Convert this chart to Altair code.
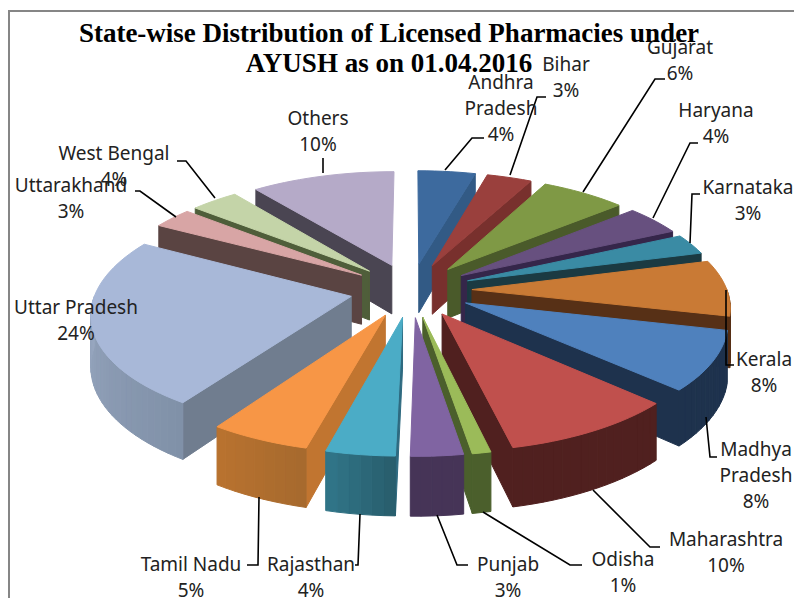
import math
import altair as alt

# ---- data ----
states = ["Andhra Pradesh", "Bihar", "Gujarat", "Haryana", "Karnataka", "Kerala",
          "Madhya Pradesh", "Maharashtra", "Odisha", "Punjab", "Rajasthan",
          "Tamil Nadu", "Uttar Pradesh", "Uttarakhand", "West Bengal", "Others"]
shares = [4.2, 3.3, 6.2, 4.2, 2.9, 7.9, 8.3, 9.5, 1.0, 2.8, 3.7, 5.4, 23.7, 2.9, 3.5, 10.5]
label_lines = [["Andhra", "Pradesh", "4%"], ["Bihar", "3%"], ["Gujarat", "6%"], ["Haryana", "4%"],
               ["Karnataka", "3%"], ["Kerala", "8%"], ["Madhya", "Pradesh", "8%"],
               ["Maharashtra", "10%"], ["Odisha", "1%"], ["Punjab", "3%"], ["Rajasthan", "4%"],
               ["Tamil Nadu", "5%"], ["Uttar Pradesh", "24%"], ["Uttarakhand", "3%"],
               ["West Bengal", "4%"], ["Others", "10%"]]

# ---- styling ----
top_colors = ["#3d6a9e", "#9a403d", "#7f9945", "#67507f", "#3a8ba4", "#c97a35", "#4f81bd", "#c0504d",
              "#9bbb59", "#8064a2", "#4bacc6", "#f79646", "#a8b8d8", "#d8a5a5", "#c4d4a8", "#b5aac8"]
radial_colors = ["#325a85", "#78302d", "#4a5a2a", "#35264a", "#1b3a42", "#573016", "#1e324d", "#50201f",
                 "#4b5f2c", "#463457", "#2e6a80", "#c17530", "#707d8f", "#5a4442", "#4f5e3a", "#4a4552"]
outer_left = ["#325a85", "#78302d", "#4a5a2a", "#35264a", "#1b3a42", "#573016", "#1e324d", "#50201f",
              "#4b5f2c", "#463457", "#317689", "#b9722f", "#97a6bf", "#5a4442", "#4f5e3a", "#4a4552"]
outer_right = ["#325a85", "#78302d", "#4a5a2a", "#35264a", "#1b3a42", "#573016", "#1e324d", "#50201f",
               "#4b5f2c", "#463457", "#285d6c", "#a66a2e", "#8091a8", "#5a4442", "#4f5e3a", "#4a4552"]

# ---- layout of labels: centre of first text line and the leader line, in page pixels ----
label_pos = [(501, 83), (566, 65), (680, 48), (716, 111), (748, 188), (764, 360), (756, 450),
             (726, 540), (623, 560), (508, 565), (311, 565), (191, 565), (76, 308), (71, 186),
             (114, 154), (318, 119)]
leaders = [[(445, 170), (472, 138), (484, 138)], [(510, 175), (537, 97), (546, 97)],
           [(583, 192), (655, 79), (665, 79)], [(653, 218), (690, 143), (698, 143)],
           [(690, 243), (692, 194), (700, 194)], [(726, 290), (726, 365), (734, 365)],
           [(706, 417), (710, 457), (717, 457)], [(593, 490), (650, 547), (660, 547)],
           [(483, 512), (570, 565), (582, 565)], [(437, 515), (457, 565), (468, 565)],
           [(360, 514), (358, 565), (355, 565)], [(259, 497), (258, 565), (247, 565)],
           [(176, 217), (140, 191), (135, 191)], [(215, 198), (186, 161), (177, 161)],
           [(323, 173), (323, 158)]]
frame_line = [(9, 598), (9, 11), (802, 11)]

CX, CY, R, EXPLODE, KY, DIST, DEPTH = 411, 290, 255, 61, 0.44, 1920, 50
W, H = 786, 590


def page(x, y):
    return [x - 8, y - 8]


def project(gx, gy, drop=False):
    s = DIST / (DIST + gy)
    x = CX + gx * s
    y = CY - gy * KY * s + (DEPTH * s if drop else 0)
    return page(x, y)


def mix(c1, c2, t):
    a = [int(c1[i:i + 2], 16) for i in (1, 3, 5)]
    b = [int(c2[i:i + 2], 16) for i in (1, 3, 5)]
    return "#%02x%02x%02x" % tuple(round(a[k] + (b[k] - a[k]) * t) for k in range(3))


def poly(points, fill):
    return {"type": "Feature", "properties": {"fill": fill},
            "geometry": {"type": "Polygon", "coordinates": [points + [points[0]]]}}


slices = []
cum = 0
total = sum(shares)
for i, v in enumerate(shares):
    a = 360 * cum / total
    b = 360 * (cum + v) / total
    cum += v
    slices.append((i, a, b, (a + b) / 2))
slices.sort(key=lambda t: -math.cos(math.radians(t[3])))

faces = []
for i, a, b, m in slices:
    ex = EXPLODE * math.sin(math.radians(m))
    ey = EXPLODE * math.cos(math.radians(m))

    def rim(t):
        r = math.radians(t)
        return R * math.sin(r) + ex, R * math.cos(r) + ey

    # radial walls
    if math.sin(math.radians(a)) < -1e-6:
        g = rim(a)
        faces.append(poly([project(ex, ey), project(*g), project(*g, True), project(ex, ey, True)], radial_colors[i]))
    if math.sin(math.radians(b)) > 1e-6:
        g = rim(b)
        faces.append(poly([project(ex, ey), project(*g), project(*g, True), project(ex, ey, True)], radial_colors[i]))
    # outer wall
    lo, hi = max(a, 90), min(b, 270)
    if hi > lo:
        n = max(1, int((hi - lo) / 2))
        for k in range(n):
            t0 = lo + (hi - lo) * k / n
            t1 = lo + (hi - lo) * (k + 1) / n
            p0, p1 = rim(t0), rim(t1)
            colour = mix(outer_right[i], outer_left[i], (k + 0.5) / n)
            faces.append(poly([project(*p0), project(*p1), project(*p1, True), project(*p0, True)], colour))
    # top
    n = max(2, int((b - a) / 2))
    pts = [project(ex, ey)] + [project(*rim(a + (b - a) * k / n)) for k in range(n + 1)]
    faces.append(poly(pts, top_colors[i]))

line_features = [{"type": "Feature", "properties": {},
                  "geometry": {"type": "LineString", "coordinates": [page(x, y) for x, y in l]}}
                 for l in leaders]
frame_feature = [{"type": "Feature", "properties": {},
                  "geometry": {"type": "LineString", "coordinates": [page(x, y) for x, y in frame_line]}}]

label_rows = [{"text": "\n".join(label_lines[i]),
               "lon": page(*label_pos[i])[0], "lat": page(*label_pos[i])[1]}
              for i in range(len(states))]

frame = alt.Chart(alt.Data(values=frame_feature)).mark_geoshape(filled=False, stroke="#868686", strokeWidth=2)
pie = alt.Chart(alt.Data(values=faces)).mark_geoshape(strokeWidth=1).encode(
    fill=alt.Fill("properties.fill:N", scale=None),
    stroke=alt.Stroke("properties.fill:N", scale=None),
)
lead = alt.Chart(alt.Data(values=line_features)).mark_geoshape(filled=False, stroke="#000000", strokeWidth=1.6)
labels = alt.Chart(alt.Data(values=label_rows)).mark_text(
    font="Noto Sans", fontSize=19, color="#222222", lineBreak="\n", lineHeight=26,
    align="center", baseline="middle",
).encode(longitude="lon:Q", latitude="lat:Q", text="text:N")

chart = alt.layer(frame, pie, lead, labels).project(type="identity", scale=1, translate=[0, 0]).properties(
    width=W, height=H, padding=0,
    autosize=alt.AutoSizeParams(type="none"),
    title=alt.TitleParams(
        text=["State-wise Distribution of Licensed Pharmacies under", "AYUSH as on 01.04.2016"],
        font="Liberation Serif", fontSize=27, fontWeight="bold", color="#000000",
        anchor="middle", offset=0, dy=70, dx=-12, lineHeight=30,
    ),
).configure_view(stroke=None)

chart.save("out.html", embed_options={"renderer": "svg", "actions": False})
